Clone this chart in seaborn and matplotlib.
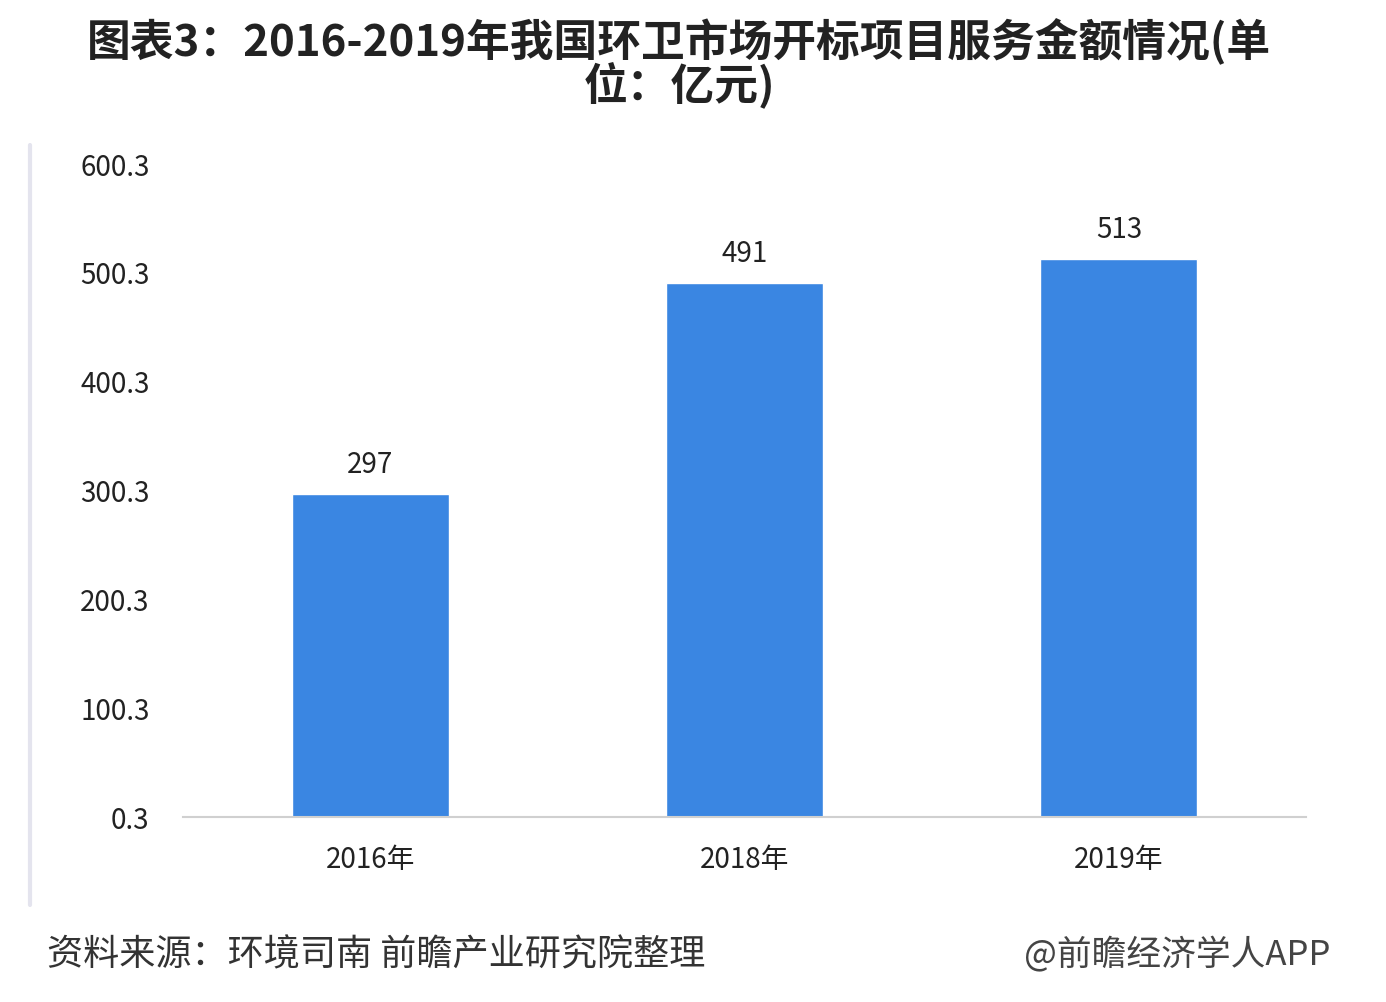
import matplotlib
matplotlib.use("Agg")
import matplotlib.pyplot as plt
import seaborn as sns
import pandas as pd
from matplotlib.lines import Line2D

years = ["2016年", "2018年", "2019年"]
amounts = [297, 491, 513]
yticks = [0.3, 100.3, 200.3, 300.3, 400.3, 500.3, 600.3]
ytick_labels = ["0.3", "100.3", "200.3", "300.3", "400.3", "500.3", "600.3"]
title = "图表3：2016-2019年我国环卫市场开标项目服务金额情况(单\n位：亿元)"
source = "资料来源：环境司南 前瞻产业研究院整理"
credit = "@前瞻经济学人APP"

sns.set_theme(style="white")
plt.rcParams['font.family'] = ['Noto Sans CJK SC', 'DejaVu Sans']

df = pd.DataFrame({"year": years, "amount": amounts})

fig = plt.figure(figsize=(13.86, 10.02), dpi=100)
fig.patch.set_facecolor("white")
ax = fig.add_axes([0.132, 0.1846, 0.8103, 0.6517])

sns.barplot(data=df, x="year", y="amount", color="#3a86e2", saturation=1,
            width=0.42, ax=ax)

ax.set_ylim(0.3, 600.3)
ax.set_yticks(yticks)
ax.set_yticklabels(ytick_labels)
ax.set_xlabel("")
ax.set_ylabel("")
ax.tick_params(axis="y", length=0, pad=24, labelsize=20, labelcolor="#222222")
ax.tick_params(axis="x", length=0, pad=20, labelsize=20, labelcolor="#222222")
for s in ["left", "top", "right"]:
    ax.spines[s].set_visible(False)
ax.spines["bottom"].set_color("#d0d0d0")
ax.spines["bottom"].set_linewidth(1.5)

for c in ax.containers:
    ax.bar_label(c, labels=[str(v) for v in amounts], padding=10,
                 fontsize=20, color="#222222")

fig.text(0.490, 0.982, title, ha="center", va="top", fontsize=31.5,
         fontweight="bold", color="#222222", linespacing=0.9)

fig.text(0.034, 0.047, source, ha="left", va="center", fontsize=26,
         color="#333333")
fig.text(0.96, 0.047, credit, ha="right", va="center", fontsize=25,
         color="#444444")

fig.add_artist(Line2D([0.022, 0.022], [1 - 145 / 1002, 1 - 905 / 1002],
                      transform=fig.transFigure, color="#e4e4ee", linewidth=3))

fig.savefig("out.png", dpi=100, facecolor="white")
